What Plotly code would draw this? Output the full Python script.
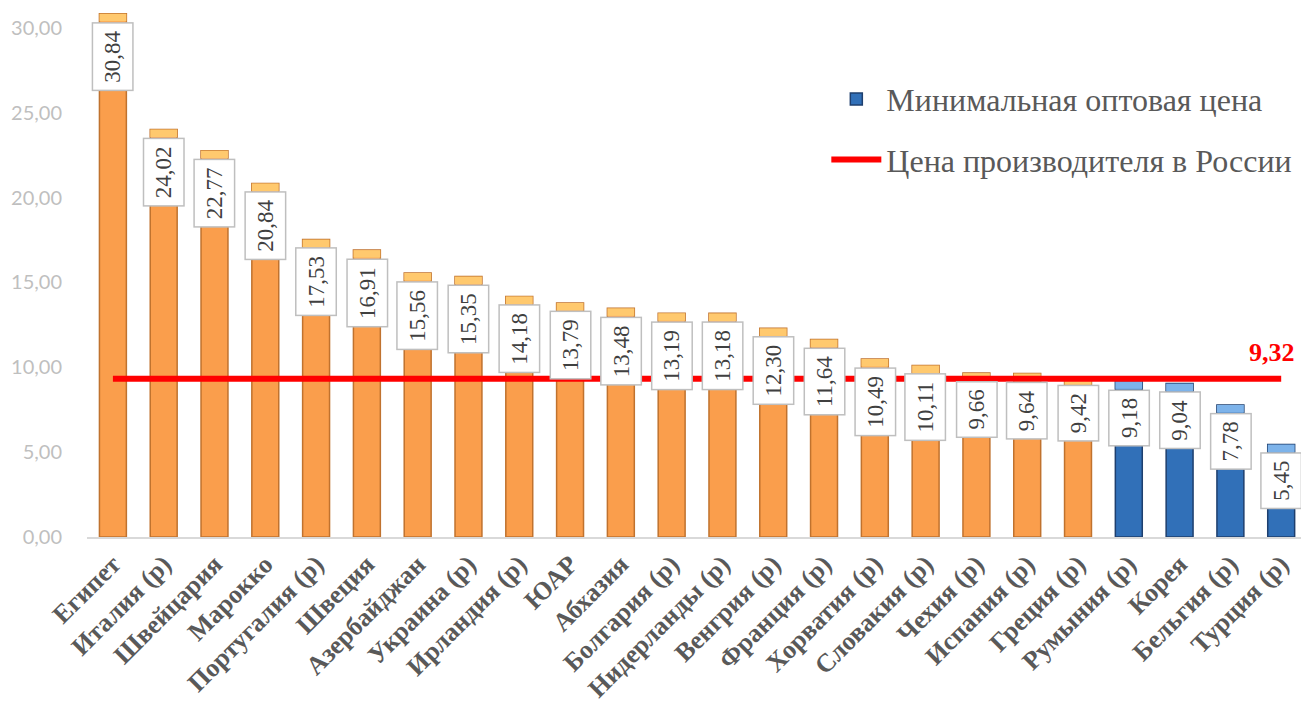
import plotly.graph_objects as go

countries = ["Египет", "Италия (р)", "Швейцария", "Марокко", "Португалия (р)", "Швеция",
             "Азербайджан", "Украина (р)", "Ирландия (р)", "ЮАР", "Абхазия", "Болгария (р)",
             "Нидерланды (р)", "Венгрия (р)", "Франция (р)", "Хорватия (р)", "Словакия (р)",
             "Чехия (р)", "Испания (р)", "Греция (р)", "Румыния (р)", "Корея", "Бельгия (р)",
             "Турция (р)"]
values = [30.84, 24.02, 22.77, 20.84, 17.53, 16.91, 15.56, 15.35, 14.18, 13.79, 13.48, 13.19,
          13.18, 12.30, 11.64, 10.49, 10.11, 9.66, 9.64, 9.42, 9.18, 9.04, 7.78, 5.45]
russia_price = 9.32
blue_from = 20  # bars from this index on are drawn in blue

n = len(countries)
idx = list(range(n))
CAP = 0.45  # height of the lighter bevel cap, in data units


def fmt(v):
    return f"{v:.2f}".replace(".", ",")


orange_y = [v if i < blue_from else None for i, v in enumerate(values)]
blue_y = [v if i >= blue_from else None for i, v in enumerate(values)]
cap_base = [v - CAP for v in values]
cap_col = ["#FFC96E" if i < blue_from else "#7DB3EA" for i in idx]

fig = go.Figure()
fig.add_trace(go.Bar(
    x=idx, y=blue_y, name="Минимальная оптовая цена", width=0.53,
    marker=dict(color="#3170B8", line=dict(color="#1E3F6E", width=1.5)),
    legendgroup="a"))
fig.add_trace(go.Bar(
    x=idx, y=orange_y, showlegend=False, width=0.53,
    marker=dict(color="#FA9E4C", line=dict(color="#C0722E", width=1.5))))
fig.add_trace(go.Bar(
    x=idx, y=[CAP] * n, base=cap_base, showlegend=False, width=0.53, hoverinfo="skip",
    marker=dict(color=cap_col, line=dict(width=0))))
fig.add_trace(go.Scatter(
    x=[0, n - 1], y=[russia_price, russia_price], mode="lines",
    name="Цена производителя в России", line=dict(color="#FF0000", width=6),
    legendgroup="b"))

for i, v in enumerate(values):
    fig.add_annotation(x=i, y=v, text=fmt(v), textangle=-90, showarrow=False,
                       xanchor="center", yanchor="top", yshift=-8,
                       bgcolor="white", bordercolor="#BFBFBF", borderwidth=1.5, borderpad=7,
                       font=dict(family="Liberation Serif", size=23, color="#404040"))

fig.add_annotation(x=n - 1, y=russia_price, text="<b>" + fmt(russia_price) + "</b>",
                   showarrow=False, xanchor="right", xshift=16, yanchor="bottom", yshift=10,
                   font=dict(family="Liberation Serif", size=26, color="#FF0000"))

fig.update_layout(
    width=1301, height=713, paper_bgcolor="white", plot_bgcolor="white",
    margin=dict(l=87, r=0, t=10, b=176, autoexpand=False),
    barmode="overlay",
    xaxis=dict(tickmode="array", tickvals=idx, ticktext=["<b>" + c + "</b>" for c in countries],
               tickangle=-45, range=[-0.51, 23.39], automargin=False,
               showline=True, linecolor="#D9D9D9", linewidth=1.5, ticks="",
               tickfont=dict(family="Liberation Serif", size=26, color="#595959")),
    yaxis=dict(range=[0, 31.06], tickvals=[0, 5, 10, 15, 20, 25, 30],
               ticktext=[fmt(t) for t in [0, 5, 10, 15, 20, 25, 30]],
               showgrid=False, zeroline=False, showline=False, ticks="", automargin=False,
               ticklabelstandoff=24,
               tickfont=dict(family="Lato", size=20, color="#BFBFBF")),
    legend=dict(x=0.609, y=0.883, xanchor="left", yanchor="top", bgcolor="rgba(0,0,0,0)",
                itemwidth=50, tracegroupgap=16, traceorder="grouped",
                font=dict(family="Liberation Serif", size=32, color="#595959")),
)

fig.write_html("out.html", config={"displayModeBar": False},
               post_script="document.body.style.margin='0';document.body.style.overflow='hidden';")
